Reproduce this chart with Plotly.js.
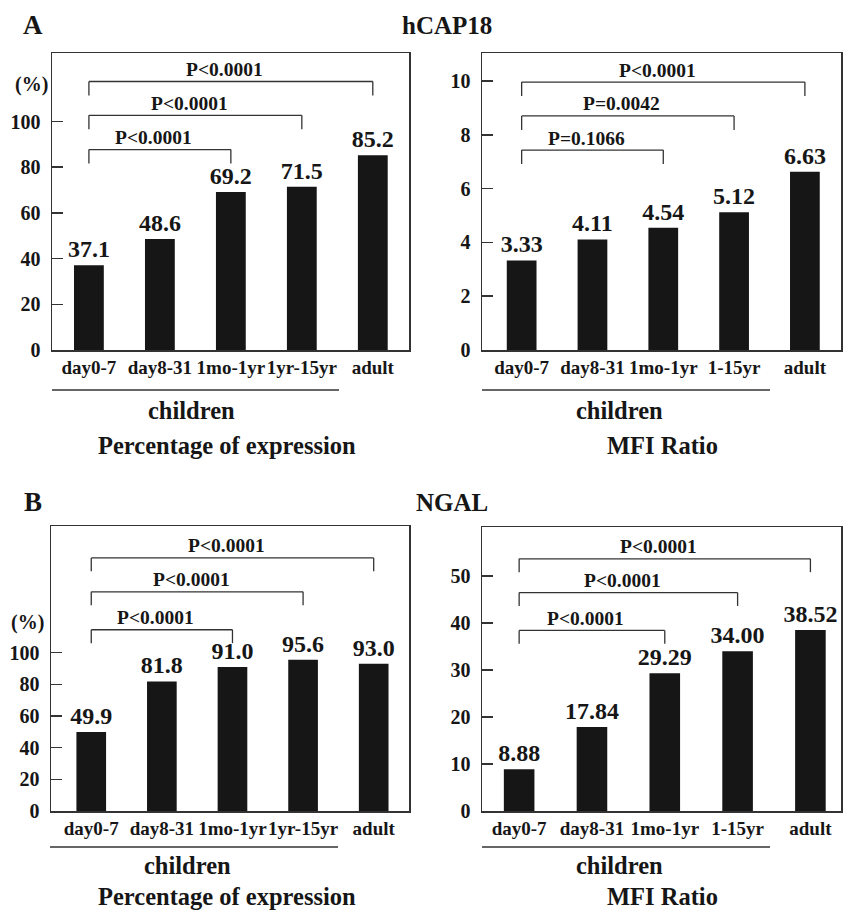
<!DOCTYPE html>
<html>
<head>
<meta charset="utf-8">
<script src="https://cdn.plot.ly/plotly-3.0.1.min.js"></script>
<style>html,body{margin:0;padding:0;background:#fff;}#chart{width:843px;height:912px;}</style>
</head>
<body>
<div id="chart"></div>
<script>
// ---- data ----
const catsPct = ['day0-7', 'day8-31', '1mo-1yr', '1yr-15yr', 'adult'];
const catsMfi = ['day0-7', 'day8-31', '1mo-1yr', '1-15yr', 'adult'];

const hcapPct = [37.1, 48.6, 69.2, 71.5, 85.2];
const hcapMfi = [3.33, 4.11, 4.54, 5.12, 6.63];
const ngalPct = [49.9, 81.8, 91.0, 95.6, 93.0];
const ngalMfi = [8.88, 17.84, 29.29, 34.00, 38.52];

const pHcapPct = ['P<0.0001', 'P<0.0001', 'P<0.0001'];
const pHcapMfi = ['P=0.1066', 'P=0.0042', 'P<0.0001'];
const pNgalPct = ['P<0.0001', 'P<0.0001', 'P<0.0001'];
const pNgalMfi = ['P<0.0001', 'P<0.0001', 'P<0.0001'];
const bracketEnds = [2, 3, 4];   // comparison: day0-7 vs category index

const ticksPct = [0, 20, 40, 60, 80, 100];
const ticksHcapMfi = [0, 2, 4, 6, 8, 10];
const ticksNgalMfi = [0, 10, 20, 30, 40, 50];

// ---- layout helpers ----
const W = 843, H = 912;
const px = v => v / W;
const py = v => 1 - v / H;
const FONT = 'Liberation Serif, Times New Roman, serif';
const INK = '#161616';
const LINE = '#333';

const panels = [
  {ax: '', cats: catsPct, vals: hcapPct, fmt: '.1f', p: pHcapPct, ticks: ticksPct,
   dom: [52, 409, 53, 350], xr: [-0.52, 4.51], yr: [0, 130], lvl: [0.675, 0.79, 0.904]},
  {ax: '2', cats: catsMfi, vals: hcapMfi, fmt: '.2f', p: pHcapMfi, ticks: ticksHcapMfi,
   dom: [482, 841, 53, 350], xr: [-0.56, 4.51], yr: [0, 11.04], lvl: [0.673, 0.788, 0.902]},
  {ax: '3', cats: catsPct, vals: ngalPct, fmt: '.1f', p: pNgalPct, ticks: ticksPct,
   dom: [51, 409, 526, 811], xr: [-0.57, 4.5], yr: [0, 180], lvl: [0.636, 0.769, 0.888]},
  {ax: '4', cats: catsMfi, vals: ngalMfi, fmt: '.2f', p: pNgalMfi, ticks: ticksNgalMfi,
   dom: [482, 841, 527, 811], xr: [-0.51, 4.42], yr: [0, 60.4], lvl: [0.636, 0.769, 0.888]}
];

const data = [];
const layout = {
  width: W, height: H,
  margin: {l: 0, r: 0, t: 0, b: 0},
  paper_bgcolor: '#fff', plot_bgcolor: '#fff',
  showlegend: false,
  bargap: 0.58,
  font: {family: FONT, color: INK, size: 20, weight: 'bold'},
  shapes: [], annotations: []
};

panels.forEach(pn => {
  const xa = 'x' + pn.ax, ya = 'y' + pn.ax;
  data.push({
    type: 'bar', x: pn.cats, y: pn.vals, xaxis: xa, yaxis: ya,
    marker: {color: INK, line: {width: 0}},
    texttemplate: '%{y:' + pn.fmt + '}', textposition: 'outside',
    constraintext: 'none', cliponaxis: false,
    textfont: {family: FONT, size: 24, color: INK, weight: 'bold'},
    hoverinfo: 'skip'
  });
  const [l, r, t, b] = pn.dom;
  layout['xaxis' + pn.ax] = {
    domain: [px(l), px(r)], anchor: ya, type: 'category', range: pn.xr,
    showline: true, mirror: true, linecolor: LINE, linewidth: 1.5,
    ticks: '', showgrid: false, zeroline: false, tickangle: 0,
    tickfont: {family: FONT, size: 19, color: INK, weight: 'bold'}, fixedrange: true
  };
  layout['yaxis' + pn.ax] = {
    domain: [py(b), py(t)], anchor: xa, range: pn.yr,
    showline: true, mirror: true, linecolor: LINE, linewidth: 1.5,
    ticks: 'inside', ticklen: 11, tickwidth: 1.5, tickcolor: LINE,
    tickvals: pn.ticks, showgrid: false, zeroline: false, ticklabelstandoff: 6,
    tickfont: {family: FONT, size: 20, color: INK, weight: 'bold'}, fixedrange: true
  };
  const drop = 0.047;
  bracketEnds.forEach((e, i) => {
    const lv = pn.lvl[i];
    const common = {type: 'line', xref: xa, yref: ya + ' domain', line: {color: LINE, width: 1.3}};
    layout.shapes.push(Object.assign({x0: 0, x1: e, y0: lv, y1: lv}, common));
    layout.shapes.push(Object.assign({x0: 0, x1: 0, y0: lv, y1: lv - drop}, common));
    layout.shapes.push(Object.assign({x0: e, x1: e, y0: lv, y1: lv - drop}, common));
    layout.annotations.push({
      text: pn.p[i], xref: xa, yref: ya + ' domain', x: e / 2, y: lv,
      xanchor: 'center', yanchor: 'middle', yshift: 12, xshift: -6, showarrow: false,
      font: {family: FONT, size: 19.5, color: INK, weight: 'bold'}
    });
  });
});

// children underlines
[[52, 339, 390], [482, 770, 390], [50, 338, 847], [482, 770, 847]].forEach(([a, b, y]) => {
  layout.shapes.push({type: 'line', xref: 'paper', yref: 'paper', x0: px(a), x1: px(b), y0: py(y), y1: py(y),
    line: {color: LINE, width: 1.6}});
});

function ann(text, x, y, size) {
  layout.annotations.push({text, xref: 'paper', yref: 'paper', x: px(x), y: py(y),
    xanchor: 'center', yanchor: 'middle', showarrow: false,
    font: {family: FONT, size, color: INK, weight: 'bold'}});
}
ann('A', 33, 25, 27);
ann('hCAP18', 447, 25, 25);
ann('B', 33, 502, 27);
ann('NGAL', 452, 502, 25);
ann('(%)', 31, 85, 20);
ann('(%)', 28, 622, 20);
ann('children', 191, 410, 24.5);
ann('children', 619, 410, 24.5);
ann('children', 187, 865, 24.5);
ann('children', 619, 865, 24.5);
ann('Percentage of expression', 227, 445, 24.5);
ann('MFI Ratio', 662, 445, 24.5);
ann('Percentage of expression', 227, 896, 24.5);
ann('MFI Ratio', 662, 896, 24.5);

Plotly.newPlot('chart', data, layout, {staticPlot: true, displayModeBar: false});
</script>
</body>
</html>
